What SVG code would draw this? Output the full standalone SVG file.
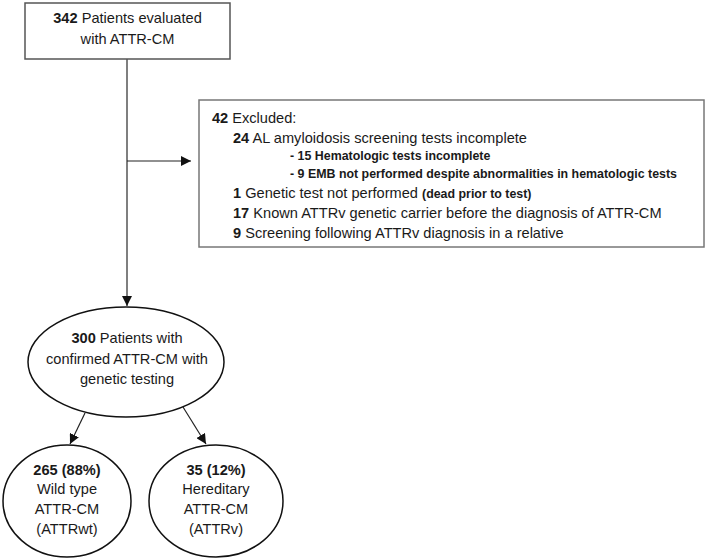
<svg xmlns="http://www.w3.org/2000/svg" width="709" height="559" viewBox="0 0 709 559">
<style>
text{font-family:"Liberation Sans",Arial,sans-serif;fill:#1a1a1a;font-size:14.6px}
.c{text-anchor:middle}
.b{font-weight:bold}
.s{font-size:12.4px;font-weight:bold}
.box{fill:#fff;stroke:#555;stroke-width:1.5}
.ell{fill:#fff;stroke:#111;stroke-width:1.5}
.ln{fill:none;stroke:#555;stroke-width:1.5}
.ln2{fill:none;stroke:#222;stroke-width:1.2}
</style>
<defs>
<marker id="ah" viewBox="0 0 10 10" refX="10" refY="5" markerWidth="10" markerHeight="10" markerUnits="userSpaceOnUse" orient="auto">
<path d="M0,0 L10,5 L0,10 Z" fill="#111"/>
</marker>
</defs>
<rect width="709" height="559" fill="#fff"/>
<g id="connectors">
<line class="ln" x1="127" y1="59" x2="127" y2="306" marker-end="url(#ah)"/>
<line class="ln2" x1="127" y1="161" x2="191" y2="161" marker-end="url(#ah)"/>
<line class="ln2" x1="85" y1="413" x2="70" y2="444" marker-end="url(#ah)"/>
<line class="ln2" x1="183" y1="407" x2="206" y2="444" marker-end="url(#ah)"/>
</g>
<g id="n342">
<rect class="box" x="25" y="3" width="205" height="56"/>
<text class="c" x="127.5" y="23"><tspan class="b">342</tspan> Patients evaluated</text>
<text class="c" x="127.5" y="44">with ATTR-CM</text>
</g>
<g id="excluded">
<rect class="box" x="199" y="100" width="505" height="147" style="stroke:#777"/>
<text x="212" y="123"><tspan class="b">42</tspan> Excluded:</text>
<text x="233" y="143"><tspan class="b">24</tspan> AL amyloidosis screening tests incomplete</text>
<text class="s" x="290" y="160">- 15 Hematologic tests incomplete</text>
<text class="s" x="290" y="178">- 9 EMB not performed despite abnormalities in hematologic tests</text>
<text x="233" y="198"><tspan class="b">1</tspan> Genetic test not performed <tspan class="s">(dead prior to test)</tspan></text>
<text x="233" y="218"><tspan class="b">17</tspan> Known ATTRv genetic carrier before the diagnosis of ATTR-CM</text>
<text x="233" y="238"><tspan class="b">9</tspan> Screening following ATTRv diagnosis in a relative</text>
</g>
<g id="n300">
<ellipse class="ell" cx="126" cy="362" rx="98" ry="55"/>
<text class="c" x="127" y="343"><tspan class="b">300</tspan> Patients with</text>
<text class="c" x="127" y="364">confirmed ATTR-CM with</text>
<text class="c" x="127" y="384">genetic testing</text>
</g>
<g id="wt">
<ellipse class="ell" cx="67" cy="501" rx="64" ry="56"/>
<text class="c b" x="67" y="475">265 (88%)</text>
<text class="c" x="67" y="494">Wild type</text>
<text class="c" x="67" y="514">ATTR-CM</text>
<text class="c" x="67" y="534">(ATTRwt)</text>
</g>
<g id="v">
<ellipse class="ell" cx="216" cy="501" rx="67" ry="56"/>
<text class="c b" x="216" y="475">35 (12%)</text>
<text class="c" x="216" y="494">Hereditary</text>
<text class="c" x="216" y="514">ATTR-CM</text>
<text class="c" x="216" y="534">(ATTRv)</text>
</g>
</svg>
